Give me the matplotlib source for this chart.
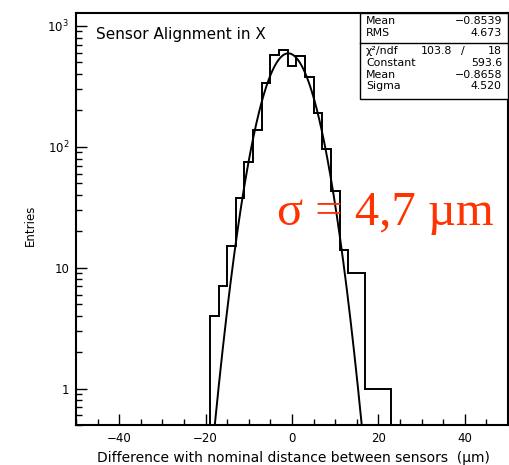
import numpy as np
import matplotlib
matplotlib.use("Agg")
import matplotlib.pyplot as plt
from matplotlib.ticker import FixedLocator, MultipleLocator, FixedFormatter, NullFormatter

# Histogram: 51 bins of width 2 over [-51, 51]
bin_lo = -51.0
bin_hi = 51.0
n_bins = 51
# counts for bins starting at [-19, -17] (all other bins empty)
first_bin = 16
counts = [4, 7, 15, 38, 75, 138, 336, 575, 633, 465, 560, 380, 190, 96, 43, 14, 9, 9, 1, 1, 1]

# Gaussian fit parameters
fit_const = 593.6
fit_mean = -0.8658
fit_sigma = 4.520

stats_top = [("Mean", "\u22120.8539"), ("RMS", "4.673")]
stats_fit = [("Constant", "593.6"), ("Mean", "\u22120.8658"), ("Sigma", "4.520")]
chi2_text = ("103.8", "18")

x_ticks = [-40, -20, 0, 20, 40]
y_ticks = [1, 10, 100, 1000]
y_tick_labels = ["1", "10", "10$^{2}$", "10$^{3}$"]

plt.rcParams["font.family"] = ["DejaVu Sans"]
plt.rcParams["mathtext.fontset"] = "dejavusans"

fig = plt.figure(figsize=(5.10, 4.65), dpi=100)
W, H = 510, 465
ax = fig.add_axes([76 / W, 1 - 425 / H, (508 - 76) / W, (425 - 13) / H])

edges = np.linspace(bin_lo, bin_hi, n_bins + 1)
vals = np.zeros(n_bins)
vals[first_bin:first_bin + len(counts)] = counts
floor = 1e-3
step_y = np.where(vals > 0, vals, floor)
ax.stairs(step_y, edges, color="black", lw=1.4, baseline=floor)

xf = np.linspace(-50, 50, 2000)
yf = fit_const * np.exp(-0.5 * ((xf - fit_mean) / fit_sigma) ** 2)
ax.plot(xf, yf, color="black", lw=1.4)

ax.set_yscale("log")
ax.set_xlim(-50, 50)
ax.set_ylim(0.5, 1280)

ax.xaxis.set_major_locator(FixedLocator(x_ticks))
ax.xaxis.set_major_formatter(FixedFormatter([f"{v}".replace("-", "\u2212") for v in x_ticks]))
ax.xaxis.set_minor_locator(MultipleLocator(5))
ax.yaxis.set_major_locator(FixedLocator(y_ticks))
ax.yaxis.set_major_formatter(FixedFormatter(y_tick_labels))
minors = [m * 10 ** d for d in range(-1, 4) for m in range(2, 10)]
ax.yaxis.set_minor_locator(FixedLocator(minors))
ax.yaxis.set_minor_formatter(NullFormatter())

ax.tick_params(which="both", direction="in", top=False, right=False, width=1.0)
ax.tick_params(which="major", length=8, labelsize=8.5, pad=5)
ax.tick_params(which="minor", length=4)
for s in ax.spines.values():
    s.set_linewidth(1.5)

fig.text(293 / W, 1 - 458 / H, "Difference with nominal distance between sensors  (\u03bcm)",
         ha="center", va="center", fontsize=10)
fig.text(30 / W, 1 - 225 / H, "Entries", rotation=90, ha="center", va="center", fontsize=8.5)
fig.text(96 / W, 1 - 34 / H, "Sensor Alignment in X", ha="left", va="center", fontsize=11)

# statistics box
bx0, bx1, by0, by1 = 359.5, 508, 13, 99.5
box = plt.Rectangle((bx0 / W, 1 - by1 / H), (bx1 - bx0) / W, (by1 - by0) / H,
                    transform=fig.transFigure, fill=True, facecolor="white",
                    edgecolor="black", lw=1.0, zorder=5)
fig.add_artist(box)
fig.add_artist(plt.Line2D([bx0 / W, bx1 / W], [1 - 43.3 / H, 1 - 43.3 / H],
                          transform=fig.transFigure, color="black", lw=1.0, zorder=6))
fs = 7.9
for (name, val), y in zip(stats_top, [21, 33]):
    fig.text(366 / W, 1 - y / H, name, ha="left", va="center", fontsize=fs, zorder=7)
    fig.text(502 / W, 1 - y / H, val, ha="right", va="center", fontsize=fs, zorder=7)
fig.text(366 / W, 1 - 51 / H, "\u03c7\u00b2/ndf", ha="left", va="center", fontsize=fs, zorder=7)
fig.text(452 / W, 1 - 51 / H, chi2_text[0], ha="right", va="center", fontsize=fs, zorder=7)
fig.text(463 / W, 1 - 51 / H, "/", ha="center", va="center", fontsize=fs, zorder=7)
fig.text(502 / W, 1 - 51 / H, chi2_text[1], ha="right", va="center", fontsize=fs, zorder=7)
for (name, val), y in zip(stats_fit, [63, 74.5, 86]):
    fig.text(366 / W, 1 - y / H, name, ha="left", va="center", fontsize=fs, zorder=7)
    fig.text(502 / W, 1 - y / H, val, ha="right", va="center", fontsize=fs, zorder=7)

fig.text(277 / W, 1 - 213 / H, "\u03c3 = 4,7 \u00b5m", ha="left", va="center",
         fontsize=35, color="#ff3300", family=["Liberation Serif", "DejaVu Serif"])

fig.savefig("out.png", dpi=100)
